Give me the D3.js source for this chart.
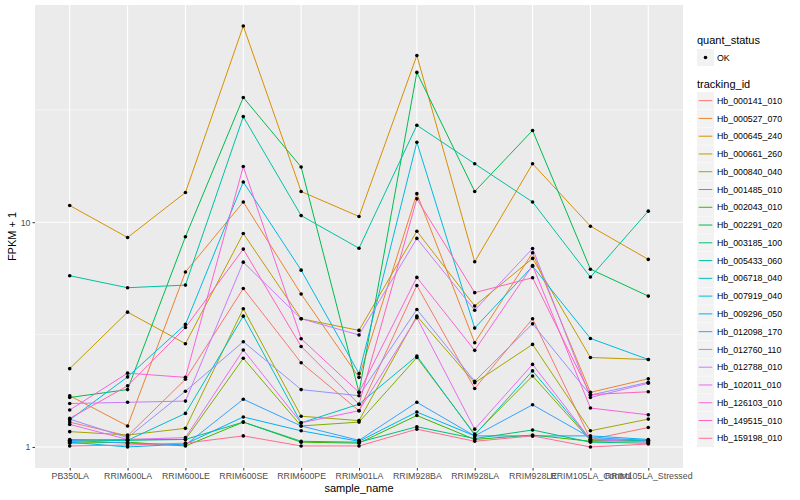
<!DOCTYPE html>
<html>
<head>
<meta charset="utf-8">
<script src="https://cdn.jsdelivr.net/npm/d3@7"></script>
<style>
  body { margin: 0; background: #fff; }
  text { font-family: "Liberation Sans", Arial, sans-serif; }
</style>
</head>
<body>
<svg width="800" height="500"></svg>
<script>
// サンプル名（x軸）
const samples = ["PB350LA", "RRIM600LA", "RRIM600LE", "RRIM600SE", "RRIM600PE", "RRIM901LA",
  "RRIM928BA", "RRIM928LA", "RRIM928LE", "RRIM105LA_Control", "RRIM105LA_Stressed"];

// tracking_id
const trackingIds = ["Hb_000141_010", "Hb_000527_070", "Hb_000645_240", "Hb_000661_260", "Hb_000840_040",
  "Hb_001485_010", "Hb_002043_010", "Hb_002291_020", "Hb_003185_100", "Hb_005433_060",
  "Hb_006718_040", "Hb_007919_040", "Hb_009296_050", "Hb_012098_170", "Hb_012760_110",
  "Hb_012788_010", "Hb_102011_010", "Hb_126103_010", "Hb_149515_010", "Hb_159198_010"];

// FPKM + 1 の値（サンプル順）
const fpkm = [
  [1.29, 1.12, 2.00, 5.07, 2.37, 1.45, 5.23, 1.82, 3.72, 1.08, 1.22],
  [1.69, 1.24, 6.0, 12.3, 4.79, 2.04, 13.4, 2.91, 7.31, 1.75, 2.01],
  [11.87, 8.55, 13.55, 74.6, 13.7, 10.6, 55.2, 6.67, 18.2, 9.6, 6.83],
  [2.23, 3.98, 2.88, 8.91, 3.72, 3.30, 9.12, 4.24, 6.90, 2.50, 2.45],
  [1.17, 1.13, 1.21, 4.12, 1.37, 1.31, 3.82, 1.93, 2.86, 1.18, 1.33],
  [1.07, 1.08, 1.08, 2.48, 1.24, 1.29, 2.50, 1.14, 2.07, 1.07, 1.06],
  [1.04, 1.05, 1.01, 1.29, 1.05, 1.04, 1.38, 1.08, 1.13, 1.06, 1.07],
  [1.66, 1.80, 8.61, 35.9, 17.6, 1.75, 46.4, 13.7, 25.6, 6.18, 4.69],
  [1.06, 1.07, 1.08, 1.29, 1.06, 1.05, 1.23, 1.09, 1.19, 1.05, 1.04],
  [5.78, 5.11, 5.25, 29.5, 10.7, 7.66, 27.0, 18.2, 12.3, 5.70, 11.2],
  [1.08, 1.07, 1.41, 3.82, 1.28, 1.55, 2.54, 1.13, 2.18, 1.08, 1.07],
  [1.32, 2.05, 3.51, 15.1, 6.12, 2.12, 22.7, 3.38, 6.37, 3.04, 2.45],
  [1.05, 1.00, 1.03, 1.36, 1.18, 1.06, 1.43, 1.12, 1.12, 1.12, 1.08],
  [1.07, 1.04, 1.02, 1.63, 1.24, 1.07, 1.58, 1.12, 1.54, 1.10, 1.07],
  [1.33, 1.10, 1.77, 2.94, 1.80, 1.69, 4.09, 1.96, 3.53, 1.70, 1.94],
  [1.56, 1.58, 1.60, 6.64, 3.72, 3.15, 8.47, 4.06, 7.64, 1.66, 1.92],
  [1.26, 1.08, 1.10, 2.70, 1.28, 1.45, 3.76, 1.20, 2.33, 1.08, 1.05],
  [1.46, 2.13, 2.04, 17.7, 3.03, 1.75, 5.68, 2.69, 6.42, 1.49, 1.39],
  [1.34, 1.87, 3.40, 7.59, 2.80, 1.55, 12.7, 4.86, 5.66, 1.71, 1.76],
  [1.01, 1.02, 1.04, 1.12, 1.01, 1.01, 1.20, 1.06, 1.12, 1.00, 1.03]
];

// ggplot のデフォルト色相パレット
const colors = ["#F8766D", "#EA8331", "#D89000", "#C09B00", "#A3A500", "#7CAE00", "#39B600", "#00BB4E",
  "#00BF7D", "#00C1A3", "#00BFC4", "#00BAE0", "#00B0F6", "#35A2FF", "#9590FF", "#C77CFF",
  "#E76BF3", "#FA62DB", "#FF62BC", "#FF6C91"];

const yBreaks = [1, 10];
const yMinor = [Math.sqrt(10), Math.sqrt(1000)];

// パネルの位置
const panel = { left: 35, right: 683, top: 5, bottom: 468 };

const svg = d3.select("svg");

const x = d3.scalePoint()
  .domain(samples)
  .range([panel.left, panel.right])
  .padding(0.6);

// 対数スケール（5% 拡張）
const allVals = fpkm.flat();
const lo = Math.log10(d3.min(allVals)), hi = Math.log10(d3.max(allVals));
const pad = (hi - lo) * 0.05;
const y = d3.scaleLog()
  .domain([Math.pow(10, lo - pad), Math.pow(10, hi + pad)])
  .range([panel.bottom, panel.top]);

// 背景
svg.append("rect")
  .attr("x", panel.left).attr("y", panel.top)
  .attr("width", panel.right - panel.left).attr("height", panel.bottom - panel.top)
  .attr("fill", "#EBEBEB");

// グリッド線
svg.selectAll(".minor")
  .data(yMinor)
  .enter()
  .append("line")
  .attr("x1", panel.left).attr("x2", panel.right)
  .attr("y1", d => y(d)).attr("y2", d => y(d))
  .attr("stroke", "#fff").attr("stroke-width", 0.5);

svg.selectAll(".major")
  .data(yBreaks)
  .enter()
  .append("line")
  .attr("x1", panel.left).attr("x2", panel.right)
  .attr("y1", d => y(d)).attr("y2", d => y(d))
  .attr("stroke", "#fff").attr("stroke-width", 1.1);

svg.selectAll(".vgrid")
  .data(samples)
  .enter()
  .append("line")
  .attr("x1", d => x(d)).attr("x2", d => x(d))
  .attr("y1", panel.top).attr("y2", panel.bottom)
  .attr("stroke", "#fff").attr("stroke-width", 1.1);

// 折れ線
const line = d3.line()
  .x((d, i) => x(samples[i]))
  .y(d => y(d));

svg.selectAll(".series")
  .data(fpkm)
  .enter()
  .append("path")
  .attr("d", d => line(d))
  .attr("fill", "none")
  .attr("stroke", (d, i) => colors[i])
  .attr("stroke-width", 1);

// 点
fpkm.forEach(vals => {
  svg.selectAll(null)
    .data(vals)
    .enter()
    .append("circle")
    .attr("cx", (d, i) => x(samples[i]))
    .attr("cy", d => y(d))
    .attr("r", 1.8)
    .attr("fill", "#000");
});

// 軸
const yAxis = svg.append("g")
  .attr("transform", `translate(${panel.left},0)`)
  .call(d3.axisLeft(y).tickValues(yBreaks).tickFormat(d3.format("d")).tickSize(2.5).tickPadding(2));
const xAxis = svg.append("g")
  .attr("transform", `translate(0,${panel.bottom})`)
  .call(d3.axisBottom(x).tickSize(2.5).tickPadding(2));
[yAxis, xAxis].forEach(a => {
  a.select(".domain").remove();
  a.selectAll("line").attr("stroke", "#333").attr("stroke-width", 1);
  a.selectAll("text").attr("fill", "#4D4D4D").style("font-size", "8.8px")
    .style("font-family", "'Liberation Sans', Arial, sans-serif");
});

// 軸タイトル
svg.append("text")
  .attr("x", (panel.left + panel.right) / 2).attr("y", 492)
  .attr("text-anchor", "middle")
  .style("font-size", "11px")
  .text("sample_name");

svg.append("text")
  .attr("transform", `translate(16,${(panel.top + panel.bottom) / 2}) rotate(-90)`)
  .attr("text-anchor", "middle")
  .style("font-size", "11px")
  .text("FPKM + 1");

// 凡例
const lg = svg.append("g").attr("transform", "translate(697,0)");
lg.append("text").attr("x", 0).attr("y", 44).style("font-size", "11px").text("quant_status");
lg.append("rect").attr("x", 0).attr("y", 49).attr("width", 17).attr("height", 17).attr("fill", "#F2F2F2");
lg.append("circle").attr("cx", 8.5).attr("cy", 57.5).attr("r", 1.8).attr("fill", "#000");
lg.append("text").attr("x", 20).attr("y", 60.5).style("font-size", "8.8px").text("OK");

lg.append("text").attr("x", 0).attr("y", 88).style("font-size", "11px").text("tracking_id");

const item = lg.selectAll(".item")
  .data(trackingIds)
  .enter()
  .append("g")
  .attr("transform", (d, i) => `translate(0,${92 + i * 17.77})`);

item.append("rect")
  .attr("width", 17).attr("height", 17.3)
  .attr("fill", "#F2F2F2");
item.append("line")
  .attr("x1", 1.7).attr("x2", 15.3)
  .attr("y1", 8.65).attr("y2", 8.65)
  .attr("stroke", (d, i) => colors[i]).attr("stroke-width", 1);
item.append("text")
  .attr("x", 20).attr("y", 11.8)
  .style("font-size", "8.8px")
  .text(d => d);
</script>
</body>
</html>
